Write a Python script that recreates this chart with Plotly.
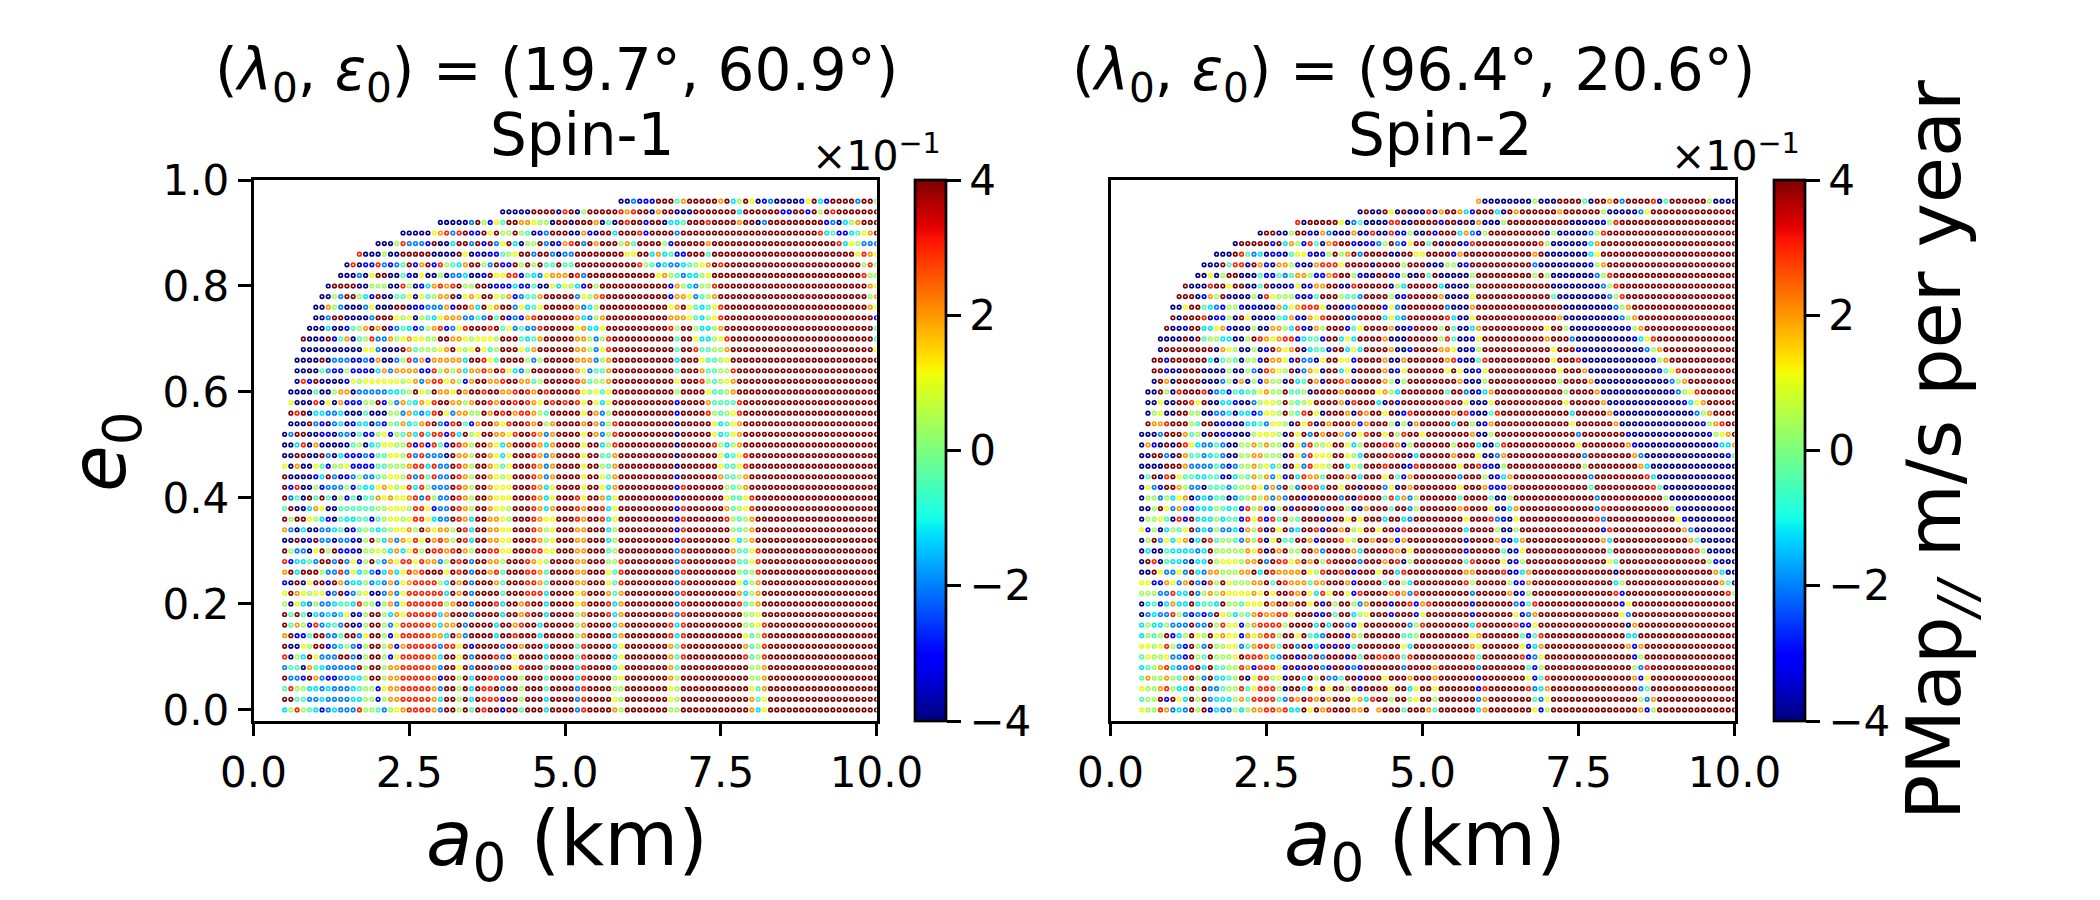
import re
import plotly.graph_objects as go

# Colour classes (0 navy ... 9 dark red), in units of the colour bar
LEVELS = [-3.95, -3.0, -2.0, -1.2, -0.5, 0.35, 1.1, 2.0, 3.0, 3.98]
ECC = [round(0.96 - 0.02 * i, 2) for i in range(49)]
SMA = [round(0.5 + 0.1 * i, 1) for i in range(96)]
X_TICKS = [0, 2.5, 5, 7.5, 10]
Y_TICKS = [0, 0.2, 0.4, 0.6, 0.8, 1.0]
CB_TICKS = [-4, -2, 0, 2, 4]
CB_TEXT = ["−4", "−2", "0", "2", "4"]

# Rows top to bottom; A = Spin-1, B = Spin-2. L: a0 columns 0-46, R: columns 47-95
# "." = no dot, x{n} = n repeats, right-hand tails stay in the saturated 9 class
A_L = [
 ".{47}",
 ".{35} 000009999 0 8 9",
 ".{25} 00000 2 9 5 1 6 4 9 9 7 7 6 5 5 0 9 9 0",
 ".{19} 00000 6 7 8 2 8 9 1 1 9 6 9 5 5 9 5 4 0 1 2 9 9 9 0",
 ".{15} 000 5 8 2 2 2 1 9 0 0 3 9 9 2 9 1 9 2 6 9 3 0 5 5 9 2 0 1 7 8",
 ".{12} 8 0 0 0 5 0 0 9 9 9 9 9 0 0 0 0 9 6 0 1 0 1 1 4 5 6 9 9 2 9 9 2 0 2 2",
 ".{10} 0 8 0 1 1 8 2 1 2 4 9 1 7 9 1 8 5 4 3 7 9 9 5 2 9 1 1 9 5 9 5 9 4 4 9 4 4",
 ".{9} 0 0 0 2 0 6 9 9 0 0 4 1 0 6 0 0 5 0 2 2 3 0 0 1 9 6 6 8 8 1 4 3 2 6 7 7 7 9",
 ".{7} 0 9 9 9 9 0 0 5 5 5 0 0 8 5 0 1 3 7 8 7 8 9 5 5 9 9 0 1 1 1 3 1 1 4 0 0 6 3 6 5",
 ".{6} 0 0 5 2 9 9 5 3 1 9 0 0 4 4 6 0 6 4 5 7 7 9 0 6 7 6 9 9 6 5 7 1 2 4 4 7 9 9 9 9 9",
 ".{5} 0 0 7 5 2 0 0 0 2 6 0 0 0 9 9 0 1 1 2 2 2 7 1 9 9 7 3 9 6 7 9 9 2 6 3 4 6 9 9 9 9 9",
 ".{5} 0 0 2 9 9 0 0 0 0 2 9 9 9 6 5 6 0 5 4 3 6 7 7 7 2 2 4 2 9 4 9 1 2 1 7 8 9 9 9 9 9 9",
 ".{4} 0 0 0 3 0 0 1 4 5 7 9 7 9 1 2 4 3 1 2 5 7 8 1 2 6 8 9 9 9 8 9 4 6 2 4 2 2 8 9 9 9 9 9",
 ".{3} 9 0 0 0 9 1 4 7 0 4 5 8 2 2 7 5 6 7 6 6 5 5 9 9 7 7 6 5 6 6 6 5 9 9 9 4 3 4 7 9 9 9 9 9",
 ".{3} 0 0 0 0 0 0 0 0 0 0 6 6 2 0 0 0 9 7 4 5 5 5 6 7 9 6 5 6 9 6 4 5 9 9 9 6 4 7 9 9 9 9 9 9",
 ".{2} 0 0 0 0 9 0 2 2 2 1 1 2 1 7 0 0 2 5 8 2 7 1 7 7 7 7 7 3 9 9 8 6 4 9 9 9 9 5 2 5 9 9 9 9 9",
 ".{2} 0 0 0 0 4 2 1 1 5 1 1 1 0 3 7 2 7 7 7 7 1 1 8 5 7 5 7 3 7 7 8 7 9 8 6 3 2 5 9 9 9 9 9 9 9",
 ".{2} 0 8 1 9 0 0 0 0 1 6 5 6 6 6 6 6 6 5 6 7 2 7 8 8 6 7 5 1 7 9 9 7 7 8 9 9 7 7 4 5 9 9 9 9 9",
 ". 0 0 0 0 4 0 0 5 7 7 0 2 2 2 2 2 3 3 4 5 9 6 5 9 7 7 6 9 7 9 9 8 9 9 7 7 8 9 8 7 9 8 9 9 9 9",
 ". 6 0 0 0 8 0 6 0 7 1 1 1 5 5 9 1 5 2 7 4 3 7 6 8 9 9 7 7 5 7 9 9 8 7 9 9 8 9 8 7 6 9 8 9 8 9",
 ". 9 8 9 0 3 3 2 2 3 0 0 0 4 0 0 0 5 5 2 7 3 2 3 8 9 6 2 7 7 5 5 9 7 9 8 9 7 8 8 7 5 4 9 9 9 9",
 ". 0 0 0 9 2 1 0 2 3 0 1 3 3 0 2 1 5 4 7 3 4 7 8 9 2 1 8 9 4 1 7 9 9 7 6 8 9 9 8 7 9 5 7 9 9 9",
 "0 2 9 9 0 0 1 1 0 2 2 0 4 1 1 5 6 1 5 4 7 3 8 3 8 8 1 8 3 9 5 6 9 9 7 7 6 8 9 9 8 7 2 7 9 9 9",
 "0 0 3 8 0 7 0 0 0 0 0 4 5 0 3 4 6 6 5 5 8 1 8 1 8 4 1 9 8 7 5 9 9 7 6 3 7 9 9 9 8 7 3 7 9 9 9",
 "0 0 9 9 0 0 9 2 0 3 1 1 1 2 1 4 4 6 6 5 8 2 8 2 2 2 0 9 7 7 5 9 9 7 6 3 6 9 9 9 8 7 2 7 9 9 9",
 "6 0 7 0 0 6 4 1 5 5 6 1 1 1 1 4 4 5 5 5 7 8 8 3 8 2 2 9 8 7 5 9 9 7 6 4 6 9 9 9 8 7 2 7 9 9 9",
 "9 0 0 0 0 1 3 9 2 0 1 2 5 2 2 4 5 6 6 5 8 2 8 4 8 2 2 9 8 7 5 9 9 7 6 5 6 9 9 9 8 7 2 7 9 9 9",
 "9 1 8 0 0 5 1 2 2 2 5 1 4 3 3 6 7 6 5 6 8 3 8 5 2 2 2 9 8 7 5 9 9 7 6 6 6 9 9 9 8 7 3 6 9 9 9",
 "9 2 4 0 9 4 9 4 0 5 1 4 0 4 4 7 6 7 6 6 7 8 2 8 5 2 2 9 8 7 5 9 9 7 6 6 6 9 9 9 8 7 3 6 9 9 9",
 "4 9 0 0 3 7 6 0 0 4 4 4 4 4 4 5 5 6 6 6 5 8 8 6 1 2 2 9 8 7 5 9 9 7 6 6 5 9 9 9 8 7 3 7 9 9 9",
 "9 5 9 9 6 5 3 1 0 4 3 3 4 4 1 4 5 6 6 5 6 8 8 6 3 2 2 9 8 7 3 9 9 7 7 6 5 9 9 9 8 7 6 6 9 9 9",
 "7 2 0 3 0 0 2 2 3 4 0 1 4 5 4 3 4 5 6 6 7 5 9 7 6 7 7 5 9 8 3 9 9 7 7 6 6 9 9 9 8 7 5 6 9 9 9",
 "0 0 9 0 1 9 2 2 0 2 2 1 0 5 9 5 3 7 2 7 6 8 6 9 7 8 7 5 9 8 3 9 9 7 7 6 6 9 9 9 8 7 5 6 9 9 9",
 "9 5 2 2 0 6 9 5 9 1 1 1 0 5 5 6 5 3 7 3 6 8 5 9 8 8 7 8 9 7 5 9 9 8 8 6 6 9 9 9 8 8 6 6 9 9 9",
 "8 1 3 3 4 2 9 9 2 9 2 6 1 5 9 4 2 7 6 8 8 6 8 7 7 2 5 9 8 9 2 9 9 7 7 5 9 9 9 8 7 6 5 9 9 9 9",
 "7 9 3 9 9 9 5 2 2 8 2 6 3 5 2 1 3 7 3 6 8 7 8 9 9 9 6 9 8 9 2 9 9 7 8 4 9 9 9 8 8 7 4 9 9 9 9",
 "1 0 9 0 6 9 9 1 9 7 2 3 3 5 2 3 2 7 2 6 7 8 8 8 8 5 3 9 7 9 2 9 9 9 7 4 9 9 9 8 8 7 4 9 9 9 9",
 "6 9 7 6 5 6 6 1 2 9 1 2 5 6 0 0 2 7 2 6 8 8 8 8 8 8 3 9 7 9 2 9 9 9 9 4 9 9 9 8 8 8 3 9 9 9 9",
 "5 0 6 3 2 5 2 2 3 4 4 3 8 5 5 1 5 7 2 6 8 8 8 8 8 8 5 7 9 9 2 9 9 9 8 3 9 9 7 8 9 9 3 9 9 9 9",
 "9 4 9 4 0 3 2 3 2 3 6 0 1 5 9 9 5 3 7 6 8 8 8 8 8 3 7 9 9 9 2 9 9 9 9 3 9 9 7 8 9 9 3 9 9 9 9",
 "9 4 7 5 1 8 2 3 4 2 9 0 1 5 9 9 5 2 6 8 8 8 8 8 7 3 7 7 9 2 9 9 9 9 3 9 9 7 8 9 9 3 9 9 9 9 9",
 "7 9 1 1 4 9 9 2 2 4 9 9 2 6 9 9 5 1 6 8 8 8 8 8 7 7 3 9 7 2 9 9 9 9 3 9 9 8 9 9 9 3 9 9 9 9 9",
 "9 0 0 6 5 9 9 1 2 3 5 2 1 5 9 9 5 7 1 7 8 8 8 8 8 2 8 8 6 9 1 9 9 9 9 2 9 9 7 9 9 9 3 9 9 9 9",
 "8 0 5 3 9 6 2 2 2 9 9 2 0 5 9 9 5 1 6 8 8 8 8 8 7 3 9 9 6 9 2 9 9 9 8 2 9 6 9 9 9 9 3 9 9 9 9",
 "2 4 4 0 7 4 3 2 2 2 2 2 9 5 9 9 5 7 7 8 8 8 8 8 7 2 9 9 6 9 2 9 9 9 2 9 9 6 8 9 9 9 4 9 9 9 9",
 "9 2 2 1 9 7 2 1 1 2 2 3 3 5 9 9 5 7 7 8 8 8 8 8 7 1 9 9 5 9 3 9 9 8 8 2 9 9 5 9 9 9 4 9 9 9 9",
 "4 8 5 5 3 3 2 3 2 2 2 3 4 5 5 1 6 7 7 8 8 8 8 8 7 2 9 9 5 9 3 9 8 8 9 2 9 9 5 9 9 9 4 9 9 9 9",
 "9 9 4 4 2 2 3 2 2 2 2 3 3 5 5 1 5 7 7 8 8 8 8 8 7 3 9 9 5 9 3 9 8 8 8 1 9 9 5 9 9 9 3 9 9 9 9",
 "3 5 8 5 4 3 1 2 3 2 2 2 8 5 5 4 2 5 6 7 8 8 8 8 7 2 9 9 5 9 4 9 8 9 9 1 9 9 4 9 9 9 3 9 9 9 9",
]
A_R = [
 ".{7} 002111 999 4 7 99999 7 9 3 5 9 6 0 1 2 0000 1 6 9 3 1 9999 2 99 5",
 "05 9{5} 878 99 0 7 99 000 9{7} 3 9{6} 11 99 1 9 5 9 8 9{7}",
 "9997040 9899 1 99 0 3 3 4 999 8 9999 7 99 0 2 9{9} 1 2 0 3 5 7 999",
 "0 7 1 0 99 3 999 8 1 9999 2 9{22} 8 3 4 1 1 3 4 6 7 9",
 "9 2 9 7 999 5 7 4 9999 5 1 9{5} 7 9{20} 8 3 6 5 2 2 2",
 "9{8} 6 6 9 9 3 7 3 4 1 1 999 4 9{23} 6 8 7 6",
 "9{10} 8 5 4 2 3 2 2 3 4 5 6 7 9 8 9{22} 5 8 5",
 "8 2 9{11} 6 7 5 4 2 3 3 5 6 9{24} 8 5 5",
 "3 1 9 5 9{11} 1 7 5 3 2 5 5 8 9{24} 7 6",
 "2 6 5 7 8 9{10} 1 7 7 6 2 4 5 7 9{24} 5 7",
 "7 2 3 5 9{11} 6 7 9 6 4 3 4 6 8 9{23} 7 6",
 "7 3 2 5 7 9{10} 7 7 7 6 4 3 5 6 8 9{24} 1",
 "6 7 3 3 6 9{10} 8 5 9 9 5 3 3 5 7 9{24} 4",
 "7 7 5 2 5 8 9{10} 4 9 9 6 3 3 5 6 8 9{23} 4",
 "7 7 5 2 6 8 9{10} 4 9 9 8 4 4 5 5 7 9{23} 6",
 "7 7 7 2 5 7 9{10} 3 999 6 4 4 5 6",
 "7 6 2 4 4 7 9{10} 4 999 7 4 4 5 5 8",
 "8 7 4 5 5 7 9{10} 6 999 8 5 4 5 6 7",
 "8 6 5 6 4 6 9{10} 5 9999 6 4 4 5 7",
 "8 6 9 6 3 6 9{10} 1 9999 7 4 4 4 4 8",
 "9 6 9 7 2 5 9{10} 1 9999 8 5 4 5 6 8",
 "9 7 9 7 2 5 8 9{9} 0 9{5} 6 3 4 6 7",
 "9 6 9 7 2 5 8 9{9} 0 9{5} 6 3 4 6 7",
 "96 99 3589 9{7} 909 9999 853579999",
 "96 99 4479 9{7} 909 9999 963468999",
 "96 99 5479 9{7} 909 9999 964468999",
 "96 99 6479 9{7} 919 9999 974457999",
 "96 99 6379 9{7} 918 9999 995457999",
 "86 99 7369 9{7} 919 9999 996446899",
 "87 99 8369 9{7} 918 9999 997456899",
 "87 99 8369 9{7} 918 9999 998545799",
 "77 99 9359 9{7} 918 9999 999545799",
 "77 99 9359 9{7} 918 9999 999635799",
 "77 99 9459 9{7} 928 9999 999744689",
 "77 99 9558 9{7} 928 9999 999844689",
 "77 99 9648 9{7} 928 9999 999954589",
 "77 99 9648 9{7} 928 9999 999963579",
 "67 99 9747 9{7} 928 9999 999973579",
 "67 99 9837 9{7} 928 9999 999984579",
 "57 99 9837 9{7} 828 9999 999995569",
 "57 99 9937 9{7} 838 9999 999995568",
 "57 99 9937 9{7} 838 9999 999996458",
 "48 99 9936 9{7} 748 9999 999997458",
 "48 99 9936 9{7} 748 9999 999998458",
 "38 99 9936 9{7} 749 9999 999999557",
 "38 99 9956 9{7} 759 9999 999999557",
 "28 99 9955 9{7} 659 9999 999999647",
 "28 99 9965 9{7} 659 9999 999999746",
 "28 99 9975 9{7} 559 9999 999999736",
]
B_L = [
 ".{47}",
 ".{35} 0 9 0 0 9 6 0 9 0 0 0 8",
 ".{25} 8 0 9 9 9 9 9 6 0 2 4 0 0 0 0 8 8 0 0 9 9 9",
 ".{19} 0 9 9 0 0 5 9 9 1 0 7 2 0 0 0 7 0 0 8 0 0 8 1 1 5 0 0 9",
 ".{15} 0 9 9 9 9 9 1 9 3 7 5 1 8 4 0 7 8 9 9 1 0 1 1 2 5 9 2 1 6 9 9 4",
 ".{12} 0 0 0 9 8 4 2 3 0 1 1 0 4 6 6 1 0 1 5 9 5 7 9 2 9 9 9 9 0 0 9 9 6 6 9",
 ".{10} 0 0 0 9 4 8 8 0 9 7 1 0 7 7 5 1 0 0 7 8 8 8 6 9 9 9 9 0 9 9 9 9 5 9 9 9 0",
 ".{9} 0 0 6 0 5 9 9 0 0 0 4 1 1 4 2 4 7 7 5 1 1 7 8 9 9 5 1 0 0 9 9 1 1 5 0 0 9 4",
 ".{7} 9 0 0 0 8 9 9 6 9 9 0 0 4 9 0 0 0 1 6 0 1 7 7 9 9 0 0 8 9 9 9 9 9 0 5 3 9 9 9 9",
 ".{6} 9 9 9 0 1 7 5 9 0 0 0 0 5 0 8 6 5 5 5 1 0 1 4 9 9 9 5 4 4 2 9 9 9 9 5 0 1 9 9 9 9",
 ".{5} 0 0 6 9 9 4 3 2 1 5 5 1 0 1 0 0 0 7 3 6 7 8 8 8 6 0 9 0 1 2 9 9 9 9 1 6 2 0 9 9 9 9",
 ".{5} 9 0 9 9 9 8 0 1 1 5 0 9 6 0 0 0 0 4 3 7 1 0 7 6 8 9 9 9 0 2 9 9 9 9 3 6 3 2 9 9 9 9",
 ".{4} 9 0 0 1 9 9 3 3 6 7 1 0 0 0 5 0 0 7 7 5 3 8 1 0 7 5 9 9 9 1 4 6 9 9 9 9 7 0 0 1 9 9 9",
 ".{3} 0 0 0 0 9 0 9 4 5 5 3 3 0 0 5 9 8 7 6 7 8 8 1 3 4 4 1 9 9 3 6 3 9 9 9 9 7 0 0 0 9 9 9 9",
 ".{3} 0 9 9 9 9 9 9 9 9 0 7 6 5 0 0 5 0 1 9 7 6 7 9 0 3 4 4 1 9 9 3 6 3 9 9 9 9 7 0 0 1 9 9 9",
 ".{2} 9 9 1 9 9 9 9 9 9 3 0 4 5 4 0 5 5 1 9 7 7 6 1 9 2 2 0 6 9 9 6 6 1 9 9 9 9 7 0 0 7 9 9 9 9",
 ".{2} 9 9 1 0 0 9 9 9 0 0 0 0 5 0 0 5 2 0 8 7 6 5 9 0 2 7 6 0 9 9 3 6 0 9 9 9 9 7 0 1 6 9 9 9 9",
 ".{2} 0 9 7 0 9 9 9 9 0 0 0 2 5 0 7 0 5 1 7 5 5 0 9 3 4 9 7 0 9 9 8 7 0 9 9 9 9 7 5 0 5 9 9 9 9",
 ". 0 0 9 5 0 8 9 9 9 8 0 2 3 1 4 3 4 4 6 7 5 5 9 4 4 5 0 9 9 9 9 7 9 9 9 9 9 6 7 5 3 9 9 9 9 9",
 ". 0 0 6 0 0 9 9 8 6 9 0 0 3 3 1 0 0 2 5 6 6 5 9 5 4 5 6 9 9 9 9 7 0 8 9 9 9 3 0 9 1 9 9 9 9 9",
 ". 0 5 6 0 0 9 9 5 5 0 0 2 2 3 0 3 3 1 2 6 6 5 9 5 4 8 9 6 0 9 9 9 7 0 8 7 9 9 6 9 0 1 8 9 9 9",
 ". 9 7 7 8 9 9 9 5 4 9 9 0 1 1 0 0 3 3 4 2 6 6 5 0 9 6 8 0 9 7 9 9 9 7 1 7 9 9 9 5 0 5 0 7 9 9",
 "0 0 0 2 9 9 9 7 4 5 0 9 0 1 1 0 0 0 5 6 6 6 5 0 9 6 9 2 9 7 9 9 7 2 9 6 8 9 9 6 9 5 8 9 9 6 9",
 "0 7 1 0 9 0 9 8 6 3 2 2 4 2 0 0 5 5 7 5 7 5 5 0 9 6 2 8 5 5 6 9 9 6 3 5 9 9 9 8 9 7 0 5 9 9 9",
 "0 0 9 9 2 0 9 7 4 4 2 3 4 2 0 0 5 5 7 7 5 5 5 0 9 6 2 8 6 6 6 9 9 6 5 3 9 9 9 9 8 9 9 0 3 9 9",
 "0 0 0 0 9 9 9 7 2 2 2 2 4 2 1 2 5 5 7 5 6 3 5 0 9 6 2 8 6 6 5 9 9 3 6 4 9 9 9 8 9 9 0 1 8 9 9",
 "0 4 9 0 8 9 6 4 4 3 3 4 4 1 0 3 5 4 7 5 7 2 6 1 9 3 8 7 7 4 9 9 9 7 9 3 9 9 9 6 9 4 1 7 9 9 9",
 "0 6 2 1 9 9 7 5 2 2 0 4 4 4 2 4 5 5 7 6 2 7 2 9 5 2 9 8 8 3 9 9 6 9 9 0 9 9 9 2 6 0 9 7 9 9 9",
 "0 5 5 2 5 3 6 7 0 2 3 2 4 4 0 2 4 5 7 5 7 2 7 2 9 9 1 9 9 9 9 9 2 9 0 8 9 9 9 4 8 3 7 2 5 9 9",
 "0 0 5 9 6 2 7 2 1 3 3 3 5 4 3 4 1 8 5 7 1 0 5 9 1 9 9 9 0 2 9 9 9 5 0 0 7 9 9 9 4 9 9 2 5 9 9",
 "0 5 5 6 4 0 8 1 9 3 3 3 5 3 4 4 1 8 6 8 1 8 4 9 5 4 9 9 9 9 1 9 9 6 9 6 9 9 9 3 9 9 3 2 9 9 9",
 "6 1 5 0 3 5 4 6 9 2 3 2 5 2 2 3 1 7 5 8 0 9 6 9 2 3 9 9 8 1 9 9 7 9 5 6 9 9 6 9 9 1 8 9 9 9 9",
 "0 5 9 2 6 3 6 7 0 3 9 8 4 5 5 4 2 7 5 8 0 6 9 4 4 9 9 7 1 9 9 9 8 6 5 9 9 7 9 9 7 1 7 9 9 9 9",
 "0 3 0 0 4 3 3 3 3 2 3 9 5 5 5 5 5 7 6 8 0 9 7 9 5 5 9 9 7 2 9 9 9 9 7 3 9 9 9 9 8 7 9 6 9 9 9",
 "0 9 8 0 4 3 3 2 0 3 3 9 5 6 6 6 5 7 7 9 2 9 8 8 6 7 9 7 9 5 8 9 9 9 9 2 9 9 9 7 9 8 0 5 9 9 9",
 "0 0 9 6 2 2 6 2 9 3 2 7 7 5 5 5 7 7 9 3 9 8 7 7 7 7 9 6 5 8 9 9 8 9 1 9 9 9 6 9 9 3 8 9 9 9 9",
 "6 6 1 1 7 6 2 7 9 2 0 8 5 9 6 5 5 5 7 7 9 4 9 8 7 7 7 4 7 7 9 9 9 7 1 9 9 9 9 4 9 9 5 3 9 9 9",
 "5 5 5 2 2 8 3 3 9 2 5 7 5 7 6 6 6 6 7 6 9 6 9 9 8 7 9 6 3 8 6 9 9 6 1 8 9 9 9 9 7 8 7 2 8 9 9",
 "0 3 4 1 3 7 3 3 9 3 4 4 3 9 5 5 4 6 6 6 9 7 9 9 7 9 9 6 9 1 9 5 9 9 5 2 7 9 9 9 1 9 9 8 1 7 8",
 "0 2 3 2 2 8 5 2 1 2 1 2 9 6 5 3 5 4 7 8 7 7 8 8 6 9 9 9 1 1 9 4 9 9 3 5 6 9 9 9 1 9 9 9 1 6 9",
 "3 5 3 3 5 2 2 2 9 2 2 9 5 8 6 6 1 5 7 8 8 8 8 5 9 9 9 9 3 9 3 9 9 2 1 6 9 9 9 9 9 9 9 2 5 8 9",
 "3 5 4 5 9 1 3 5 9 6 5 9 6 7 6 6 1 7 6 7 8 8 5 9 9 6 9 4 3 2 9 9 9 1 7 5 9 9 9 9 9 9 4 4 5 9 9",
 "6 6 5 6 8 5 2 1 9 5 2 9 5 5 6 6 2 4 7 8 8 7 4 9 9 2 9 1 3 1 9 1 9 1 4 9 9 9 9 9 9 9 6 3 9 9 9",
 "4 6 5 5 6 2 2 1 9 5 4 9 5 5 5 6 9 8 8 8 7 3 2 9 9 1 9 2 9 2 9 9 9 1 9 4 9 9 8 8 9 8 4 8 9 9 9",
 "3 4 5 7 8 3 2 2 8 9 3 9 4 4 5 5 8 7 1 8 8 8 6 1 9 1 9 1 9 2 1 9 9 1 2 1 9 9 9 9 9 9 2 9 9 9 9",
 "4 7 5 5 7 5 4 7 9 5 2 9 3 3 4 5 9 0 6 8 8 5 6 0 9 9 3 9 5 9 2 2 4 9 9 1 9 9 9 6 9 9 9 7 9 9 9",
 "6 5 5 7 8 5 3 3 9 5 9 2 2 4 5 5 8 4 6 8 8 8 5 0 9 9 3 9 6 9 6 9 9 5 9 1 9 9 9 9 6 9 9 3 6 9 9",
 "4 5 5 9 1 9 6 3 9 5 9 2 3 3 3 5 7 4 8 8 8 8 4 2 8 7 9 8 7 9 7 9 9 9 6 7 3 8 9 9 5 9 9 5 6 9 9",
 "6 5 5 8 7 2 3 2 9 5 9 1 3 2 2 5 3 5 7 7 8 8 7 8 3 3 9 6 9 7 8 9 9 9 7 7 9 . 7 9 9 9 4 9 9 9 7",
]
B_R = [
 ".{7} 7 0{8} 5 000 9999 4 0 99 7 9 2 9999 8 0 4 9{6} 5 0000",
 "0 7 99 7 3 1 999 3 0 9 7 9{6} 7 9{6} 5 0{5} 2 6",
 "9 1 99 0 9 0 7 000 5 9{10} 0{5} 1 5 8",
 "1 999 3 7 2 1 5 9{9} 0 5 0{5} 2 5 8",
 "9 0 99 0 1 8 9{10} 8 5 0{6} 3 7",
 "999 1 7 9{11} 7 9 0{7} 3 6",
 "0 0 5 5 0 1 9{10} 2 0{8} 1 5 7",
 "9 0{5} 5 9{9} 5 9 5 0{7} 2 5 8",
 "9 3 0000 5 9{12} 0{8} 2 5 8",
 "9 7 0000 6 9{12} 4 0{8} 2 5 8",
 "9 9 2 000 7 9{14} 0{8} 2 5 7",
 "9 9 8 3 00 6 9{13} 7 0{9} 2 5 7",
 "9 5 9 4 00 3 7 9{10} 6 99 5 0{9} 1 5 7",
 "9 5 8 4 00 1 6 9{10} 7 999 2 0{9} 1 3 6 8",
 "9 7 7 6 00 1 5 9{11} 6 999 1 0{10} 2 5 7",
 "9 9 7 8 1 00 4 8 9{10} 6 999 8 0{11} 1 5 7",
 "9 9 6 9 6 00 1 6 9{11} 6 999 7 0{11} 1 4 6 8",
 "9999 7 000 5 9{11} 5 9999 7 0{12} 2 5 7",
 "9 9 4 9 9 2 0 1 3 7 9{11} 5 9999 7 0{12} 2 5 6 8",
 "9 9 8 9 9 6 000 6 9{11} 6 9{5} 7 0{12} 1 3 6 7",
 "999 7 9 8 1 00 4 8 9{11} 3 9{5} 7 0{13} 2 5 7",
 "999 3 99 5 0 1 7 9{12} 6 9{6} 7 0{13} 1 5 7 8",
 "9{6} 7 00 5 9{13} 2 9{6} 9 1 0{12} 1 5 6 7",
 "999 5 999 3 00 4 8 9{11} 6 9{7} 7 1 0{12} 1 3 3 7",
 "999 7 999 6 00 2 7 9{12} 2 9{7} 7 2 0{13} 1 4",
 "9999 6 99 8 1 1 0 5 9{12} 5 9{8} 7 3 0{14}",
 "9999 2 999 5 0 1 3 7 9{12} 2 9{8} 8 3 0{13}",
 "9999 6 999 7 1 1 1 7 9{12} 4 9{9} 8 4 0{12}",
 "9999 4 9999 4 00 5 9{13} 2 9{10} 5 0{11}",
 "9999 7 8 999 6 00 3 7 9{12} 2 8 9{10} 5 1 0{9}",
 "9{5} 6 999 8 2 1 0 6 9{12} 8 2 9{11} 6 1 0{8}",
 "9{5} 3 9999 5 00 5 9{13} 1 8 9{11} 7 2 0{7}",
 "9{5} 1 9999 7 1 0 3 7 9{12} 7 3 9{12} 7 4 0{6}",
 "9{5} 1 9{5} 4 0 1 6 9{13} 4 9{13} 8 5 0{5}",
 "9{5} 4 8 9999 6 0 1 5 9{13} 6 4 9{14} 5 1 000",
 "9{5} 7 7 9999 8 0 1 3 7 9{13} 0 9{15} 7 3 00",
 "9{5} 8 5 9{5} 5 1 1 7 9{13} 3 5 9{15} 7 4 0",
 "9{6} 2 9{5} 7 0 1 5 9{13} 8 1 9{16} 8 5",
 "9{6} 1 9{6} 2 1 4 8 9{13} 1 6",
 "9{6} 1 9{6} 6 1 2 7 9{13} 6 2",
 "9{6} 3 8 9{5} 8 1 1 6 9{14} 0 7",
 "9{6} 6 7 9{6} 4 1 4 8 9{13} 3 3",
 "9{6} 7 6 9{6} 6 1 3 7 9{13} 7 1 7",
 "9{6} 8 4 9{6} 8 1 2 6 9{14} 1 5",
 "7 9{6} 2 9{7} 4 1 5 9{14} 5 2 8",
 "7 9{6} 1 9{7} 6 1 4 8 9{13} 7 1 6",
 "6 9{6} 1 8 9{6} 8 2 3 7 9{14} 2 4",
 "5 9{6} 2 7 9{7} 4 2 6 9{14} 5 2 7",
 "4 9{6} 3 7 9{7} 6 1 5 9{14} 7 1 5",
]


def cells(text, width):
    text = re.sub(r"(.)\{(\d+)\}", lambda m: m.group(1) * int(m.group(2)), text.replace(" ", ""))
    return text.ljust(width, "9")[:width]


def points(left, right):
    xs, ys, cs = [], [], []
    for e, l, r in zip(ECC, left, right):
        for a, ch in zip(SMA, cells(l, 47) + cells(r, 49)):
            if ch != ".":
                xs.append(a)
                ys.append(e)
                cs.append(LEVELS[int(ch)])
    return xs, ys, cs


JET = [[0, "#00007f"], [0.11, "#0000ff"], [0.125, "#0000ff"], [0.34, "#00dbff"], [0.35, "#00e6f7"],
       [0.375, "#15ffea"], [0.64, "#eeff08"], [0.65, "#f7f600"], [0.66, "#ffec00"], [0.89, "#ff1300"],
       [0.91, "#e80000"], [1, "#7f0000"]]
FONT = "DejaVu Sans"
W, H = 2100, 900
OFF = 7.5  # the page body adds this much to every position
TOP, BOTTOM = 179.5 - OFF, 720 - OFF
PANELS = [(253 - OFF, 876 - OFF, 914 - OFF), (1110 - OFF, 1734 - OFF, 1773 - OFF)]

fig = go.Figure()
for i, (left, right) in enumerate([(A_L, A_R), (B_L, B_R)]):
    xs, ys, cs = points(left, right)
    sfx = "" if i == 0 else "2"
    fig.add_trace(go.Scatter(
        x=xs, y=ys, mode="markers", xaxis="x" + sfx, yaxis="y" + sfx, showlegend=False,
        marker=dict(symbol="circle-open", size=3.6, line=dict(width=1.6), color=cs,
                    coloraxis="coloraxis" + sfx)))

axis_common = dict(showgrid=False, zeroline=False, showline=True, mirror=True, linecolor="black",
                   linewidth=2.7, ticks="outside", tickcolor="black", tickwidth=2.7, ticklen=13,
                   automargin=False, tickfont=dict(family=FONT, size=42, color="black"))
cb_common = dict(thickness=31, thicknessmode="pixels", lenmode="pixels", len=BOTTOM - TOP,
                 yanchor="top", y=1 - TOP / H, xanchor="left", xpad=0, ypad=0,
                 outlinecolor="black", outlinewidth=2.7, ticks="outside", ticklen=14, tickwidth=2.7,
                 tickcolor="black", tickvals=CB_TICKS, ticktext=CB_TEXT,
                 tickfont=dict(family=FONT, size=42, color="black"))
layout = dict(width=W, height=H, margin=dict(l=0, r=0, t=0, b=0, autoexpand=False), paper_bgcolor="white",
              plot_bgcolor="white", autosize=False)
for i, (x0, x1, cbx) in enumerate(PANELS):
    sfx = "" if i == 0 else "2"
    layout["xaxis" + sfx] = dict(domain=[x0 / W, x1 / W], range=[0, 10], tickvals=X_TICKS,
                                 ticktext=["0.0", "2.5", "5.0", "7.5", "10.0"],
                                 anchor="y" + sfx, **axis_common)
    yopts = dict(axis_common)
    if i == 1:
        yopts["ticks"] = ""
        yopts["showticklabels"] = False
    layout["yaxis" + sfx] = dict(domain=[1 - BOTTOM / H, 1 - TOP / H], range=[-0.02, 1.0],
                                 tickvals=Y_TICKS, tickformat=".1f", anchor="x" + sfx, **yopts)
    layout["coloraxis" + sfx] = dict(colorscale=JET, cmin=-4, cmax=4,
                                     colorbar=dict(x=cbx / W, **cb_common))
fig.update_layout(**layout)


def note(text, x, y, size, angle=0, xanchor="center", yanchor="middle"):
    fig.add_annotation(text=text, x=(x - OFF) / W, y=1 - (y - OFF) / H, xref="paper", yref="paper",
                       showarrow=False, font=dict(family=FONT, size=size, color="black"),
                       textangle=angle, xanchor=xanchor, yanchor=yanchor)


TITLES = [("(<i>λ</i><sub>0</sub>, <i>ε</i><sub>0</sub>) = (19.7°, 60.9°)", "Spin-1"),
          ("(<i>λ</i><sub>0</sub>, <i>ε</i><sub>0</sub>) = (96.4°, 20.6°)", "Spin-2")]
for (x0, x1, cbx), (t1, t2) in zip(PANELS, TITLES):
    mid = (x0 + x1) / 2 + OFF
    note(t1, mid - 9, 73, 58)
    note(t2, mid + 17, 135, 58)
    note("<i>a</i><sub>0</sub> (km)", mid + 2, 843, 76)
    note("×10<sup>−1</sup>", cbx + OFF + 28, 152, 41, xanchor="right")
note("<i>e</i><sub>0</sub>", 103, 451, 76, angle=-90)
note("PMap<sub><i>//</i></sub> m/s per year", 1938, 450, 75, angle=-90)

fig.write_html("out.html")
